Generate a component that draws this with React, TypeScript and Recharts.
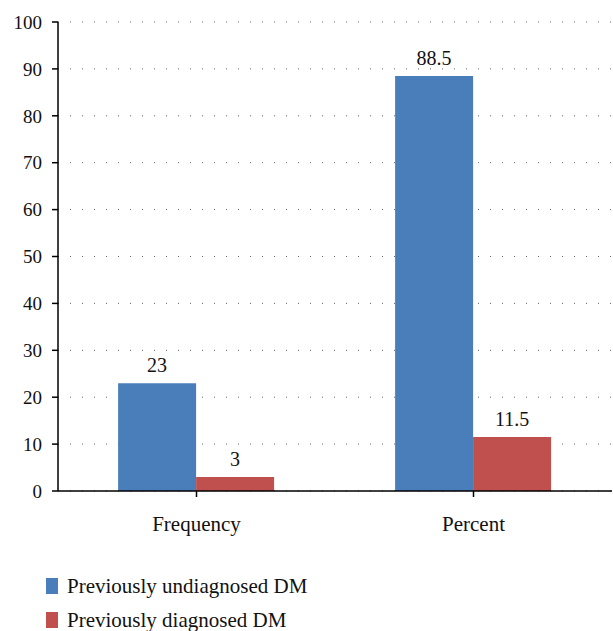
import { BarChart, Bar, XAxis, YAxis, CartesianGrid, LabelList } from "recharts";

const categories = ["Frequency", "Percent"];
const undiagnosed = [23, 88.5];
const diagnosed = [3, 11.5];
const yTicks = [0, 10, 20, 30, 40, 50, 60, 70, 80, 90, 100];

const SERIES = [
  { key: "undiagnosed", name: "Previously undiagnosed DM", color: "#4a7ebb" },
  { key: "diagnosed", name: "Previously diagnosed DM", color: "#c0504d" },
];

const data = categories.map((name, i) => ({
  name,
  undiagnosed: undiagnosed[i],
  diagnosed: diagnosed[i],
}));

const FONT = "Liberation Serif, DejaVu Serif, serif";
const yTickStyle = { fontSize: 19, fill: "#111", fontFamily: FONT };
const xTickStyle = { fontSize: 21, fill: "#111", fontFamily: FONT };

export default function App() {
  return (
    <div style={{ position: "absolute", left: 0, top: 0, width: 613, height: 631, background: "#fff", fontFamily: FONT }}>
      <BarChart
        width={613}
        height={545}
        data={data}
        margin={{ top: 22, right: 1, bottom: 0, left: 0 }}
        barCategoryGap="21.7%"
        barGap={0}
        style={{ fontFamily: FONT }}
      >
        <CartesianGrid vertical={false} stroke="#666" strokeDasharray="1 11" />
        <XAxis
          dataKey="name"
          height={54}
          tick={xTickStyle}
          tickSize={6}
          tickMargin={19}
          axisLine={{ stroke: "#000", strokeWidth: 1.5 }}
          tickLine={{ stroke: "#000", strokeWidth: 1.5 }}
        />
        <YAxis
          width={58}
          domain={[0, 100]}
          ticks={yTicks}
          interval={0}
          tick={yTickStyle}
          tickSize={6}
          tickMargin={10}
          axisLine={{ stroke: "#000", strokeWidth: 1.5 }}
          tickLine={{ stroke: "#000", strokeWidth: 1.5 }}
        />
        {SERIES.map((s) => (
          <Bar key={s.key} dataKey={s.key} name={s.name} fill={s.color} isAnimationActive={false}>
            <LabelList
              dataKey={s.key}
              position="top"
              offset={11}
              style={{ fontSize: 20, fill: "#111", fontFamily: FONT }}
            />
          </Bar>
        ))}
      </BarChart>
      <div style={{ position: "absolute", left: 46, top: 569, fontFamily: FONT, fontSize: 21, color: "#111" }}>
        {SERIES.map((s) => (
          <div key={s.key} style={{ display: "flex", alignItems: "center", height: 34 }}>
            <span style={{ display: "inline-block", width: 12, height: 16, background: s.color, marginRight: 9 }} />
            <span>{s.name}</span>
          </div>
        ))}
      </div>
    </div>
  );
}
